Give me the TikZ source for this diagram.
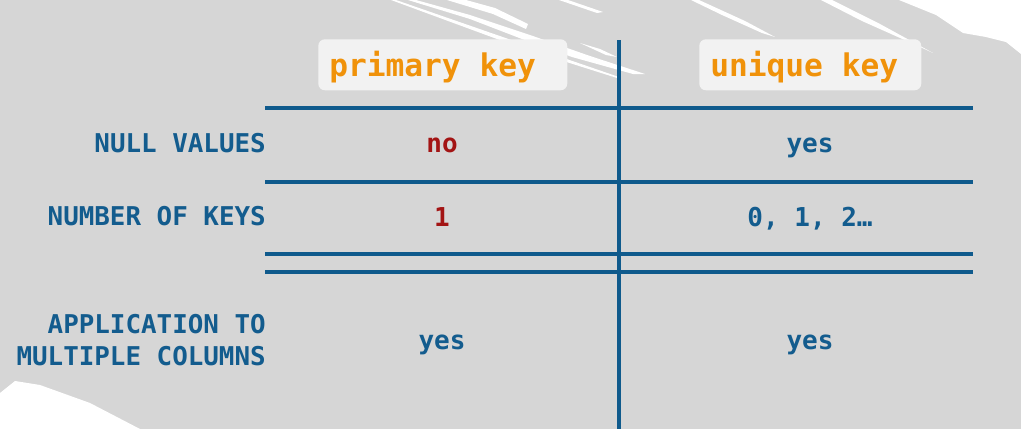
\documentclass[tikz,border=0pt]{standalone}
\usepackage{xcolor}
\usepackage{fontspec}
\setmonofont{DejaVu Sans Mono}
\definecolor{keyblue}{HTML}{135C8E}
\definecolor{lineblue}{HTML}{0F5A8C}
\definecolor{keyorange}{HTML}{F0920A}
\definecolor{keyred}{HTML}{A31414}
\definecolor{slidegray}{HTML}{D6D6D6}
\definecolor{boxgray}{HTML}{F2F2F2}

\begin{document}
\begin{tikzpicture}
			[line cap=round,line join=round,x=0.75pt,y=-0.75pt,
			gridline/.style={draw=lineblue,line width=3pt,line cap=butt},
			brush/.style={fill=white,draw=none},
			headbox/.style={fill=boxgray,rounded corners=5pt,anchor=north west,inner xsep=8.25pt,inner ysep=0pt,align=flush left,minimum height=38.25pt,text height=20pt,text depth=2.75pt,text=keyorange,font=\ttfamily\bfseries\fontsize{23.4}{28}\selectfont},
			rowlabel/.style={text=keyblue,anchor=base east,inner sep=0pt,align=right,font=\ttfamily\bfseries\fontsize{19.4}{24}\selectfont},
			cell/.style={anchor=base,inner sep=0pt,font=\ttfamily\bfseries\fontsize{19.5}{24}\selectfont},
			yescell/.style={cell,text=keyblue},
			nocell/.style={cell,text=keyred}]
			\useasboundingbox [fill=slidegray] (0,0) rectangle (1021,429);
			\fill [brush] (391,0) -- (396,0) -- (520,43) -- (619,77) -- (617,78) -- (516,46) -- cycle;
			\fill [brush] (408,0) -- (416,0) -- (470,15) -- (530,35) -- (590,56) -- (645,74) -- (633,74) -- (572,57) -- (522,39) -- (470,19) -- cycle;
			\fill [brush] (447,0) -- (466,0) -- (495,8) -- (528,24) -- (526,29) -- (493,14) -- cycle;
			\fill [brush] (559,0) -- (568,0) -- (603,12) -- (597,13) -- cycle;
			\fill [brush] (580,43) -- (600,49) -- (617,57) -- (606,55) -- cycle;
			\fill [brush] (691,0) -- (699,0) -- (745,21) -- (775,37) -- (762,33) -- (722,15) -- cycle;
			\fill [brush] (821,0) -- (832,0) -- (880,24) -- (933,53) -- (918,46) -- (862,21) -- cycle;
			\fill [brush] (949,20) -- (955,21) -- (963,30) -- cycle;
			\fill [brush] (899,0) -- (1021,0) -- (1021,54) -- (1006,42) -- (986,37) -- (963,33) -- (936,15) -- cycle;
			\fill [brush] (0,393) -- (15,381) -- (40,385) -- (90,403) -- (140,429) -- (0,429) -- cycle;
			\node [headbox,text width=170.25pt] (pkHead) at (318,39) {primary key};
			\node [headbox,text width=150pt] (ukHead) at (699,39) {unique key};
			\draw [gridline] (619,40) -- (619,429);
			\draw [gridline] (265,108) -- (973,108);
			\draw [gridline] (265,182) -- (973,182);
			\draw [gridline] (265,254) -- (973,254);
			\draw [gridline] (265,272) -- (973,272);
			\node [rowlabel] (nullLabel) at (266,152) {NULL VALUES};
			\node [rowlabel] (keysLabel) at (266,225) {NUMBER OF KEYS};
			\node [rowlabel,anchor=east] (multiLabel) at (266,340) {APPLICATION TO\\MULTIPLE COLUMNS};
			\node [nocell] (pkNull) at (442,152) {no};
			\node [nocell] (pkKeys) at (442,226) {1};
			\node [yescell] (pkMulti) at (442,349) {yes};
			\node [yescell] (ukNull) at (810,152) {yes};
			\node [yescell] (ukKeys) at (810,226) {0, 1, 2…};
			\node [yescell] (ukMulti) at (810,349) {yes};
		\end{tikzpicture}
\end{document}
